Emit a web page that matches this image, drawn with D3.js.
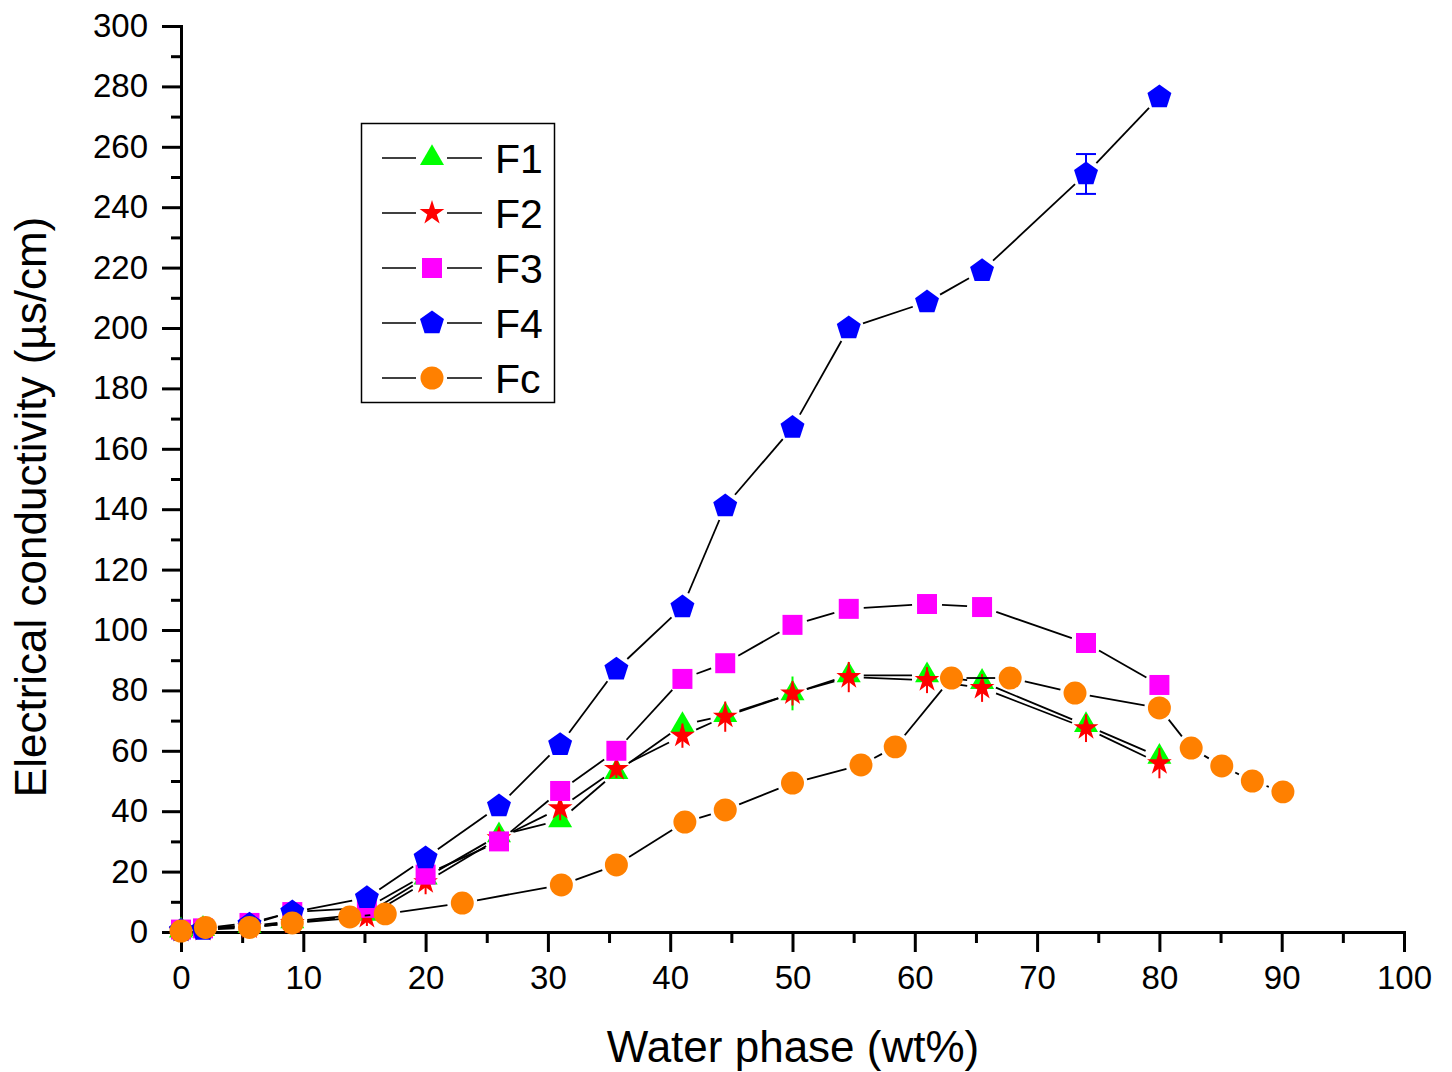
<!DOCTYPE html>
<html>
<head>
<meta charset="utf-8">
<script src="https://cdn.jsdelivr.net/npm/d3@7"></script>
<style>
  body { margin: 0; background: #fff; }
  text { font-family: Arial, "Liberation Sans", sans-serif; fill: #000; }
</style>
</head>
<body>
<svg id="chart" width="1452" height="1072"></svg>
<script>
// data
const xF = [0, 1.8, 5.6, 9.1, 15.2, 20, 26, 31, 35.6, 41, 44.5, 50, 54.6, 61, 65.5, 74, 80];
const f1 = [0.5, 1, 2, 3.5, 6, 18, 32, 37, 53, 68.5, 71.8, 79, 85, 85, 82.8, 68.5, 58];
const f1Err = [0, 0, 0.5, 1, 1, 2, 2, 2, 2, 2, 2, 5.6, 2, 2, 2, 2, 2];
const f2 = [0.3, 0.7, 1.5, 3, 5, 16.5, 31, 41, 54, 65, 71.3, 79, 84.4, 83.4, 80.8, 67.5, 55.9];
const f2Err = [0, 0, 0.5, 1, 3, 4, 3, 4, 3, 4, 5, 4, 5, 4.3, 4.6, 4.6, 5];
const f3 = [0.8, 1.2, 3, 6.6, 8, 19, 30, 46.7, 60, 83.8, 89, 101.7, 107, 108.6, 107.6, 95.7, 81.8];
const f4 = [0.5, 0.8, 2.5, 6.6, 11.3, 24.5, 41.7, 62, 87, 107.6, 141, 167, 200, 208.6, 218.9, 251, 276.5];
const f4Err = [0, 0, 0, 0, 0, 0, 0, 0, 0, 0, 0, 0, 0, 0, 0, 6.6, 0];
const xFc = [0, 2, 5.6, 9.1, 13.8, 16.7, 23, 31.1, 35.6, 41.2, 44.5, 50, 55.6, 58.4, 63, 67.8, 73.1, 80, 82.6, 85.1, 87.6, 90.1];
const fc = [0.3, 1.5, 1.5, 3, 5, 6, 9.6, 15.6, 22.2, 36.4, 40.4, 49.3, 55.3, 61.3, 84.1, 84.1, 79.1, 74.2, 60.9, 55, 50, 46.4];

const xTicks = d3.range(0, 101, 10);
const xMinor = d3.range(5, 100, 10);
const yTicks = d3.range(0, 301, 20);
const yMinor = d3.range(10, 300, 20);

// pentagon symbol (d3 has none)
const symbolPentagon = {
  draw(ctx, size) {
    const r = Math.sqrt(size / 2.3776);
    for (let i = 0; i < 5; i++) {
      const a = -Math.PI / 2 + i * 2 * Math.PI / 5;
      if (i === 0) ctx.moveTo(r * Math.cos(a), r * Math.sin(a));
      else ctx.lineTo(r * Math.cos(a), r * Math.sin(a));
    }
    ctx.closePath();
  }
};

const series = [
  { name: "F1", xs: xF, ys: f1, err: f1Err, color: "#00ff00", type: d3.symbolTriangle, size: 250, cap: 0 },
  { name: "F2", xs: xF, ys: f2, err: f2Err, color: "#ff0000", type: d3.symbolStar, size: 190, cap: 0 },
  { name: "F3", xs: xF, ys: f3, err: null, color: "#ff00ff", type: d3.symbolSquare, size: 400, cap: 0 },
  { name: "F4", xs: xF, ys: f4, err: f4Err, color: "#0000ff", type: symbolPentagon, size: 377, cap: 20 },
  { name: "Fc", xs: xFc, ys: fc, err: null, color: "#ff8000", type: d3.symbolCircle, size: 415, cap: 0 }
];

const svg = d3.select("#chart");
const x = d3.scaleLinear().domain([0, 100]).range([181, 1404]);
const y = d3.scaleLinear().domain([0, 300]).range([932, 26]);

// axes
const xAxis = svg.append("g").attr("transform", "translate(0,932)")
  .call(d3.axisBottom(x).tickValues(xTicks).tickSize(20).tickSizeOuter(0).tickPadding(14));
svg.append("g").attr("transform", "translate(0,932)")
  .call(d3.axisBottom(x).tickValues(xMinor).tickSize(11).tickFormat(""))
  .select(".domain").remove();
const yAxis = svg.append("g").attr("transform", "translate(181,0)")
  .call(d3.axisLeft(y).tickValues(yTicks).tickSize(19).tickSizeOuter(0).tickPadding(14));
svg.append("g").attr("transform", "translate(181,0)")
  .call(d3.axisLeft(y).tickValues(yMinor).tickSize(10).tickFormat(""))
  .select(".domain").remove();

svg.selectAll(".domain").attr("stroke", "#000").attr("stroke-width", 3).attr("stroke-linecap", "square");
svg.selectAll(".tick line").attr("stroke", "#000").attr("stroke-width", 3);
svg.selectAll(".tick text").attr("font-size", 33).attr("font-family", "Arial, 'Liberation Sans', sans-serif");

// axis titles
svg.append("text").attr("x", 793).attr("y", 1062).attr("text-anchor", "middle")
  .attr("font-size", 44).text("Water phase (wt%)");
svg.append("text").attr("transform", "translate(46,507) rotate(-90)").attr("text-anchor", "middle")
  .attr("font-size", 44).text("Electrical conductivity (µs/cm)");

// line segments with a gap around each marker
const gap = 15;
function segments(s) {
  const pts = s.xs.map((v, i) => [x(v), y(s.ys[i])]);
  const out = [];
  for (let i = 0; i < pts.length - 1; i++) {
    const [x0, y0] = pts[i], [x1, y1] = pts[i + 1];
    const L = Math.hypot(x1 - x0, y1 - y0);
    if (L <= 2 * gap) continue;
    const ux = (x1 - x0) / L, uy = (y1 - y0) / L;
    out.push([x0 + ux * gap, y0 + uy * gap, x1 - ux * gap, y1 - uy * gap]);
  }
  return out;
}

const plot = svg.append("g");
series.forEach(s => {
  const g = plot.append("g");
  const pts = s.xs.map((v, i) => ({ x: v, y: s.ys[i], e: s.err ? s.err[i] : 0 }));

  // error bars
  const eb = g.selectAll(".err").data(pts.filter(d => d.e > 0)).enter().append("g")
    .attr("stroke", s.color).attr("stroke-width", 2);
  eb.append("line")
    .attr("x1", d => x(d.x)).attr("x2", d => x(d.x))
    .attr("y1", d => y(d.y - d.e)).attr("y2", d => y(d.y + d.e));
  if (s.cap > 0) {
    [-1, 1].forEach(sign => {
      eb.append("line")
        .attr("x1", d => x(d.x) - s.cap / 2).attr("x2", d => x(d.x) + s.cap / 2)
        .attr("y1", d => y(d.y + sign * d.e)).attr("y2", d => y(d.y + sign * d.e));
    });
  }

  g.selectAll(".seg").data(segments(s)).enter().append("line")
    .attr("x1", d => d[0]).attr("y1", d => d[1]).attr("x2", d => d[2]).attr("y2", d => d[3])
    .attr("stroke", "#000").attr("stroke-width", 1.8);

  g.selectAll(".mk").data(pts).enter().append("path")
    .attr("transform", d => `translate(${x(d.x)},${y(d.y)})`)
    .attr("d", d3.symbol().type(s.type).size(s.size))
    .attr("fill", s.color);
});

// legend
const legend = svg.append("g");
legend.append("rect").attr("x", 361.5).attr("y", 123.5).attr("width", 193).attr("height", 279)
  .attr("fill", "#fff").attr("stroke", "#000").attr("stroke-width", 1.5);
const rowY = d3.scalePoint().domain(series.map(s => s.name)).range([158, 378]);
series.forEach(s => {
  const cy = rowY(s.name);
  legend.append("line").attr("x1", 382).attr("x2", 416).attr("y1", cy).attr("y2", cy)
    .attr("stroke", "#000").attr("stroke-width", 1.5);
  legend.append("line").attr("x1", 447).attr("x2", 482).attr("y1", cy).attr("y2", cy)
    .attr("stroke", "#000").attr("stroke-width", 1.5);
  legend.append("path").attr("transform", `translate(432,${cy})`)
    .attr("d", d3.symbol().type(s.type).size(s.size)).attr("fill", s.color);
  legend.append("text").attr("x", 495).attr("y", cy + 15).attr("font-size", 41).text(s.name);
});
</script>
</body>
</html>
